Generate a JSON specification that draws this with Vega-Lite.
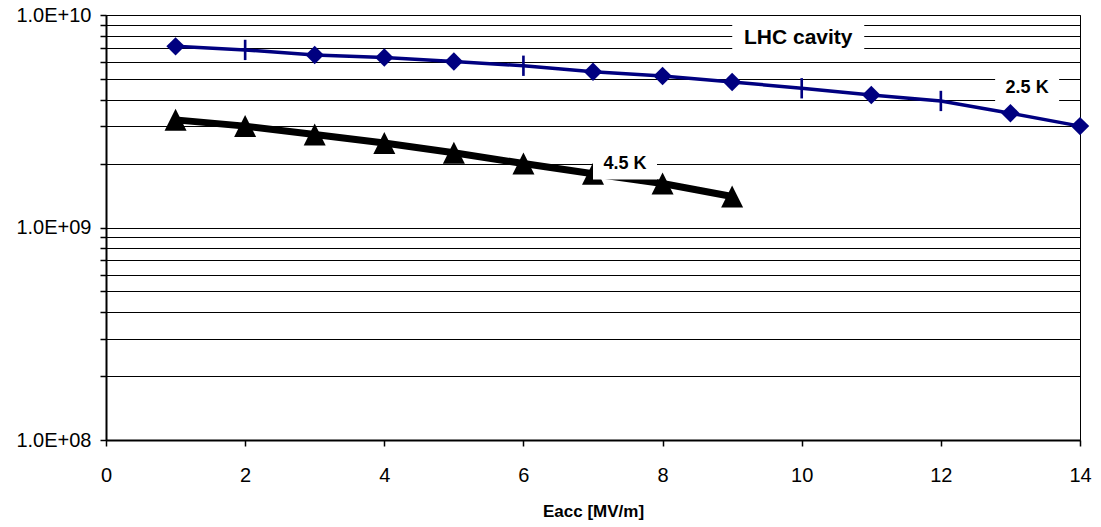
{
  "$schema": "https://vega.github.io/schema/vega-lite/v6.json",
  "width": 974,
  "height": 425,
  "autosize": {"type": "none"},
  "padding": {"left": 106, "top": 15, "right": 21, "bottom": 87},
  "background": "white",
  "config": {
    "font": "Liberation Sans",
    "view": {"stroke": "#000000", "strokeWidth": 1}
  },
  "datasets": {
    "curves": [
      {"Eacc": 1, "Q0": 7.12e9, "series": "2.5 K", "marker": "diamond"},
      {"Eacc": 2, "Q0": 6.85e9, "series": "2.5 K", "marker": "bar"},
      {"Eacc": 3, "Q0": 6.48e9, "series": "2.5 K", "marker": "diamond"},
      {"Eacc": 4, "Q0": 6.31e9, "series": "2.5 K", "marker": "diamond"},
      {"Eacc": 5, "Q0": 6.04e9, "series": "2.5 K", "marker": "diamond"},
      {"Eacc": 6, "Q0": 5.77e9, "series": "2.5 K", "marker": "bar"},
      {"Eacc": 7, "Q0": 5.41e9, "series": "2.5 K", "marker": "diamond"},
      {"Eacc": 8, "Q0": 5.16e9, "series": "2.5 K", "marker": "diamond"},
      {"Eacc": 9, "Q0": 4.84e9, "series": "2.5 K", "marker": "diamond"},
      {"Eacc": 10, "Q0": 4.52e9, "series": "2.5 K", "marker": "bar"},
      {"Eacc": 11, "Q0": 4.2e9, "series": "2.5 K", "marker": "diamond"},
      {"Eacc": 12, "Q0": 3.94e9, "series": "2.5 K", "marker": "bar"},
      {"Eacc": 13, "Q0": 3.45e9, "series": "2.5 K", "marker": "diamond"},
      {"Eacc": 14, "Q0": 3.0e9, "series": "2.5 K", "marker": "diamond"},
      {"Eacc": 1, "Q0": 3.21e9, "series": "4.5 K", "marker": "triangle"},
      {"Eacc": 2, "Q0": 3.0e9, "series": "4.5 K", "marker": "triangle"},
      {"Eacc": 3, "Q0": 2.74e9, "series": "4.5 K", "marker": "triangle"},
      {"Eacc": 4, "Q0": 2.5e9, "series": "4.5 K", "marker": "triangle"},
      {"Eacc": 5, "Q0": 2.25e9, "series": "4.5 K", "marker": "triangle"},
      {"Eacc": 6, "Q0": 2.0e9, "series": "4.5 K", "marker": "triangle"},
      {"Eacc": 7, "Q0": 1.79e9, "series": "4.5 K", "marker": "triangle"},
      {"Eacc": 8, "Q0": 1.61e9, "series": "4.5 K", "marker": "triangle"},
      {"Eacc": 9, "Q0": 1.4e9, "series": "4.5 K", "marker": "triangle"}
    ],
    "labels": [
      {"label": "LHC cavity", "Eacc": 9.95, "Q0": 7.79e9},
      {"label": "2.5 K", "Eacc": 13.24, "Q0": 4.54e9},
      {"label": "4.5 K", "Eacc": 7.46, "Q0": 2.0e9}
    ]
  },
  "encoding": {
    "x": {
      "field": "Eacc",
      "type": "quantitative",
      "scale": {"domain": [0, 14], "nice": false, "zero": false},
      "axis": {
        "values": [0, 2, 4, 6, 8, 10, 12, 14],
        "grid": false,
        "domainColor": "#000000",
        "domainWidth": 2,
        "tickColor": "#000000",
        "tickWidth": 1.5,
        "tickSize": 6,
        "labelFontSize": 20,
        "labelColor": "#000000",
        "labelPadding": 19,
        "labelFlush": false,
        "title": "Eacc [MV/m]",
        "titleFontSize": 17,
        "titleFontWeight": "bold",
        "titleColor": "#000000",
        "titleBaseline": "alphabetic",
        "titleY": 76
      }
    },
    "y": {
      "field": "Q0",
      "type": "quantitative",
      "scale": {"type": "log", "domain": [1e8, 1e10], "nice": false},
      "axis": {
        "values": [1e8, 2e8, 3e8, 4e8, 5e8, 6e8, 7e8, 8e8, 9e8, 1e9, 2e9, 3e9, 4e9, 5e9, 6e9, 7e9, 8e9, 9e9, 1e10],
        "grid": true,
        "gridColor": "#000000",
        "gridWidth": 1,
        "gridOpacity": 1,
        "domainColor": "#000000",
        "domainWidth": 2,
        "tickColor": "#000000",
        "tickWidth": 1.5,
        "tickSize": 6,
        "labelFontSize": 20,
        "labelColor": "#000000",
        "labelPadding": 9,
        "labelOverlap": false,
        "labelFlush": false,
        "labelExpr": "datum.value > 9.9e9 ? '1.0E+10' : (abs(datum.value - 1e9) < 1 ? '1.0E+09' : (abs(datum.value - 1e8) < 1 ? '1.0E+08' : ''))",
        "title": null
      }
    }
  },
  "layer": [
    {
      "data": {"name": "curves"},
      "mark": {"type": "line"},
      "encoding": {
        "color": {"field": "series", "type": "nominal", "scale": {"domain": ["2.5 K", "4.5 K"], "range": ["#000080", "#000000"]}, "legend": null},
        "strokeWidth": {"field": "series", "type": "nominal", "scale": {"domain": ["2.5 K", "4.5 K"], "range": [3.5, 7]}, "legend": null}
      }
    },
    {
      "data": {"name": "curves"},
      "mark": {"type": "point", "filled": true, "opacity": 1, "strokeWidth": 0},
      "encoding": {
        "color": {"field": "series", "type": "nominal", "scale": {"domain": ["2.5 K", "4.5 K"], "range": ["#000080", "#000000"]}, "legend": null},
        "shape": {"field": "marker", "type": "nominal", "scale": {"domain": ["diamond", "bar", "triangle"], "range": ["diamond", "M-0.13,-1H0.13V1H-0.13Z", "M0,-1L1,1L-1,1Z"]}, "legend": null},
        "size": {"field": "marker", "type": "nominal", "scale": {"domain": ["diamond", "bar", "triangle"], "range": [340, 484, 702]}, "legend": null}
      }
    },
    {
      "data": {"name": "labels"},
      "transform": [{"filter": "datum.label == 'LHC cavity'"}],
      "mark": {"type": "point", "filled": true, "color": "#ffffff", "opacity": 1, "strokeWidth": 0, "shape": "M-1,-0.2424H1V0.2424H-1Z", "size": 17424},
      "encoding": {}
    },
    {
      "data": {"name": "labels"},
      "transform": [{"filter": "datum.label != 'LHC cavity'"}],
      "mark": {"type": "point", "filled": true, "color": "#ffffff", "opacity": 1, "strokeWidth": 0, "shape": "M-1,-0.5H1V0.5H-1Z", "size": 4096},
      "encoding": {}
    },
    {
      "data": {"name": "labels"},
      "transform": [{"filter": "datum.label == 'LHC cavity'"}],
      "mark": {"type": "text", "fontSize": 21, "fontWeight": "bold", "color": "#000000", "align": "center", "baseline": "middle"},
      "encoding": {"text": {"field": "label"}}
    },
    {
      "data": {"name": "labels"},
      "transform": [{"filter": "datum.label != 'LHC cavity'"}],
      "mark": {"type": "text", "fontSize": 18, "fontWeight": "bold", "color": "#000000", "align": "center", "baseline": "middle"},
      "encoding": {"text": {"field": "label"}}
    }
  ]
}
